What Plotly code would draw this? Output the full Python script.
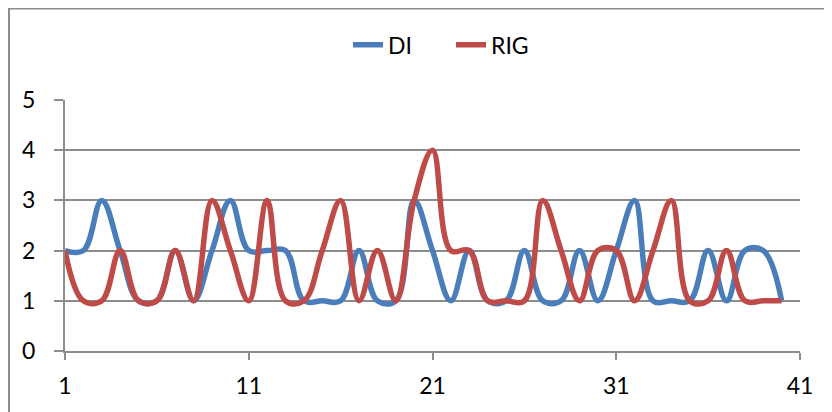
import plotly.graph_objects as go

x_vals = list(range(1, 41))
di = [2, 2, 3, 2, 1, 1, 2, 1, 2, 3,
      2, 2, 2, 1, 1, 1, 2, 1, 1, 3,
      2, 1, 2, 1, 1, 2, 1, 1, 2, 1,
      2, 3, 1, 1, 1, 2, 1, 2, 2, 1]
rig = [2, 1, 1, 2, 1, 1, 2, 1, 3, 2,
       1, 3, 1, 1, 2, 3, 1, 2, 1, 3,
       4, 2, 2, 1, 1, 1, 3, 2, 1, 2,
       2, 1, 2, 3, 1, 1, 2, 1, 1, 1]
x_ticks = [1, 11, 21, 31, 41]
y_ticks = [0, 1, 2, 3, 4, 5]

FONT = "Lato"
grid = "#8c8c8c"

L, T, R, B = 57, 92, 40, 69
PW = 832 - L - R
PH = 412 - T - B

fig = go.Figure()
fig.add_trace(go.Scatter(x=x_vals, y=di, name="DI", mode="lines",
                         line=dict(color="#4A7EBB", width=5.5, shape="spline", smoothing=1.1)))
fig.add_trace(go.Scatter(x=x_vals, y=rig, name="RIG", mode="lines",
                         line=dict(color="#BE4B48", width=5.5, shape="spline", smoothing=1.1)))

fig.update_layout(
    width=832, height=412,
    margin=dict(l=L, r=R, t=T, b=B),
    paper_bgcolor="white", plot_bgcolor="white",
    font=dict(family=FONT, size=23, color="black"),
    showlegend=True,
    legend=dict(orientation="h", x=(340 - L) / PW, xanchor="left", y=1.22, yanchor="middle",
                entrywidth=58, entrywidthmode="pixels",
                font=dict(family=FONT, size=23), bgcolor="rgba(0,0,0,0)"),
    xaxis=dict(range=[1, 41], tickvals=x_ticks, ticktext=[str(t) for t in x_ticks],
               showgrid=False, zeroline=False, showline=True, linecolor=grid, linewidth=2,
               ticks="outside", ticklen=7, tickwidth=2, tickcolor=grid,
               ticklabelstandoff=6, fixedrange=True),
    yaxis=dict(range=[0, 5], tickvals=y_ticks, showgrid=True, gridcolor=grid, gridwidth=2,
               zeroline=False, showline=True, linecolor=grid, linewidth=2,
               ticks="outside", ticklen=9, tickwidth=2, tickcolor=grid,
               ticklabelstandoff=14, fixedrange=True),
    shapes=[dict(type="rect", xref="paper", yref="paper",
                 x0=(1 - L) / PW, x1=1.2, y0=-0.5, y1=(PH + T - 0.5) / PH,
                 line=dict(color="#8c8c8c", width=2), layer="below")],
)

fig.write_html("out.html")
